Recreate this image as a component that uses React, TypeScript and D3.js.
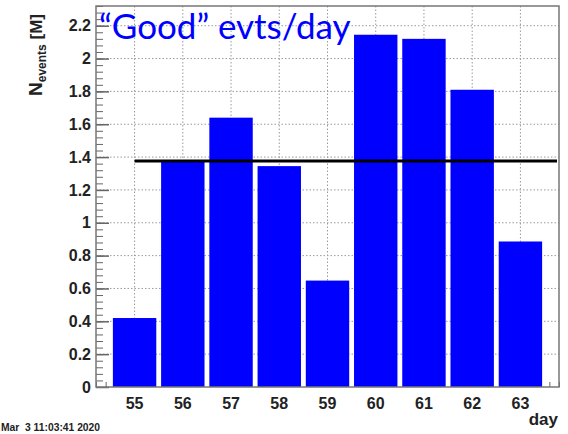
import React, { useRef, useEffect } from 'react';
import { scaleLinear, axisLeft, axisBottom, select, range, mean } from 'd3';

const days = [55, 56, 57, 58, 59, 60, 61, 62, 63];
const goodEvents = [0.42, 1.37, 1.64, 1.345, 0.648, 2.145, 2.12, 1.81, 0.886];
const yTicks = [0, 0.2, 0.4, 0.6, 0.8, 1, 1.2, 1.4, 1.6, 1.8, 2, 2.2];
const xDomain = [54.2, 63.8];
const yDomain = [0, 2.32];
const title = '\u201cGood\u201d evts/day';
const stamp = 'Mar  3 11:03:41 2020';

const W = 568;
const H = 434;
const margin = { left: 96, top: 6, right: 9, bottom: 47 };

const App = () => {
    const svgRef = useRef<SVGSVGElement>(null);

    useEffect(() => {
        const svg = select(svgRef.current);
        const innerW = W - margin.left - margin.right;
        const innerH = H - margin.top - margin.bottom;

        const xScale = scaleLinear().domain(xDomain).range([0, innerW]);
        const yScale = scaleLinear().domain(yDomain).range([innerH, 0]);

        const g = svg.select('.plot').attr('transform', `translate(${margin.left},${margin.top})`);

        // dotted grid
        g.select('.grid')
            .selectAll('.gx')
            .data(days)
            .join('line')
            .attr('class', 'gx')
            .attr('x1', d => xScale(d)).attr('x2', d => xScale(d))
            .attr('y1', 0).attr('y2', innerH)
            .attr('stroke', '#9a9a9a').attr('stroke-dasharray', '1.5,2');
        g.select('.grid')
            .selectAll('.gy')
            .data(yTicks.slice(1))
            .join('line')
            .attr('class', 'gy')
            .attr('x1', 0).attr('x2', innerW)
            .attr('y1', d => yScale(d)).attr('y2', d => yScale(d))
            .attr('stroke', '#9a9a9a').attr('stroke-dasharray', '1.5,2');

        // x axis ticks (mostly hidden by the bars)
        const xMinor = range(0, 49).map(i => 54.2 + i * 0.2);
        g.select('.x-axis')
            .attr('transform', `translate(0,${innerH})`)
            .call(axisBottom(xScale).tickValues(xMinor).tickSize(-5).tickFormat(() => ''))
            .call(s => s.select('.domain').remove())
            .selectAll('line').attr('stroke', '#666');

        // bars
        g.select('.bars')
            .selectAll('rect')
            .data(days.map((d, i) => ({ day: d, v: goodEvents[i] })))
            .join('rect')
            .attr('x', d => xScale(d.day - 0.45))
            .attr('width', d => xScale(d.day + 0.45) - xScale(d.day - 0.45))
            .attr('y', d => yScale(d.v))
            .attr('height', d => innerH - yScale(d.v))
            .attr('fill', '#0000ff');

        // average line
        const avg = mean(goodEvents);
        g.select('.avg')
            .attr('x1', xScale(days[0])).attr('x2', xScale(xDomain[1]) - 2)
            .attr('y1', yScale(avg)).attr('y2', yScale(avg))
            .attr('stroke', '#000').attr('stroke-width', 3);

        // y axis
        const yMinor = range(0, 59).map(i => i * 0.04);
        g.select('.y-minor')
            .call(axisLeft(yScale).tickValues(yMinor).tickSize(-7).tickFormat(() => ''))
            .call(s => s.select('.domain').remove())
            .selectAll('line').attr('stroke', '#666');
        g.select('.y-axis')
            .call(axisLeft(yScale).tickValues(yTicks).tickSize(-13).tickPadding(5)
                .tickFormat(d => String(+(+d).toFixed(1))))
            .call(s => s.select('.domain').remove())
            .call(s => s.selectAll('line').attr('stroke', '#666').attr('stroke-width', 1.5))
            .call(s => s.selectAll('text')
                .attr('font-family', 'Liberation Sans, Arial, sans-serif')
                .attr('font-weight', 'bold')
                .attr('font-size', 16)
                .attr('fill', '#222'));

        // x labels
        g.select('.x-labels')
            .selectAll('text')
            .data(days)
            .join('text')
            .attr('x', d => xScale(d))
            .attr('y', innerH + 22)
            .attr('text-anchor', 'middle')
            .attr('font-family', 'Liberation Sans, Arial, sans-serif')
            .attr('font-weight', 'bold')
            .attr('font-size', 16)
            .attr('fill', '#222')
            .text(d => d);

        g.select('.frame')
            .attr('width', innerW).attr('height', innerH)
            .attr('fill', 'none').attr('stroke', '#777').attr('stroke-width', 1.5);
    }, []);

    return (
        <svg ref={svgRef} width={W} height={H}
            style={{ position: 'absolute', left: 0, top: 0, background: '#fff' }}>
            <rect width={W} height={H} fill="#fff" />
            <g className="plot">
                <g className="grid"></g>
                <g className="x-axis"></g>
                <g className="bars"></g>
                <g className="y-minor"></g>
                <g className="y-axis"></g>
                <line className="avg" />
                <rect className="frame" />
                <g className="x-labels"></g>
            </g>
            <text x={99} y={39} fill="#0000ff" fontFamily="Lato, 'Open Sans', sans-serif" fontSize={35}>
                {title}
            </text>
            <text transform="translate(42,14) rotate(-90)" textAnchor="end"
                fontFamily="Liberation Sans, Arial, sans-serif" fontWeight="bold" fill="#222" fontSize={19}>
                N<tspan fontSize={12} dy={4}>events</tspan><tspan fontSize={17} dy={-4}> [M]</tspan>
            </text>
            <text x={558} y={425} textAnchor="end" fontFamily="Liberation Sans, Arial, sans-serif"
                fontWeight="bold" fontSize={17} fill="#222">day</text>
            <text x={1} y={431} fontFamily="Liberation Sans, Arial, sans-serif"
                fontWeight="bold" fontSize={10.3} fill="#222" style={{ whiteSpace: 'pre' }}>{stamp}</text>
        </svg>
    );
};

export default App;
